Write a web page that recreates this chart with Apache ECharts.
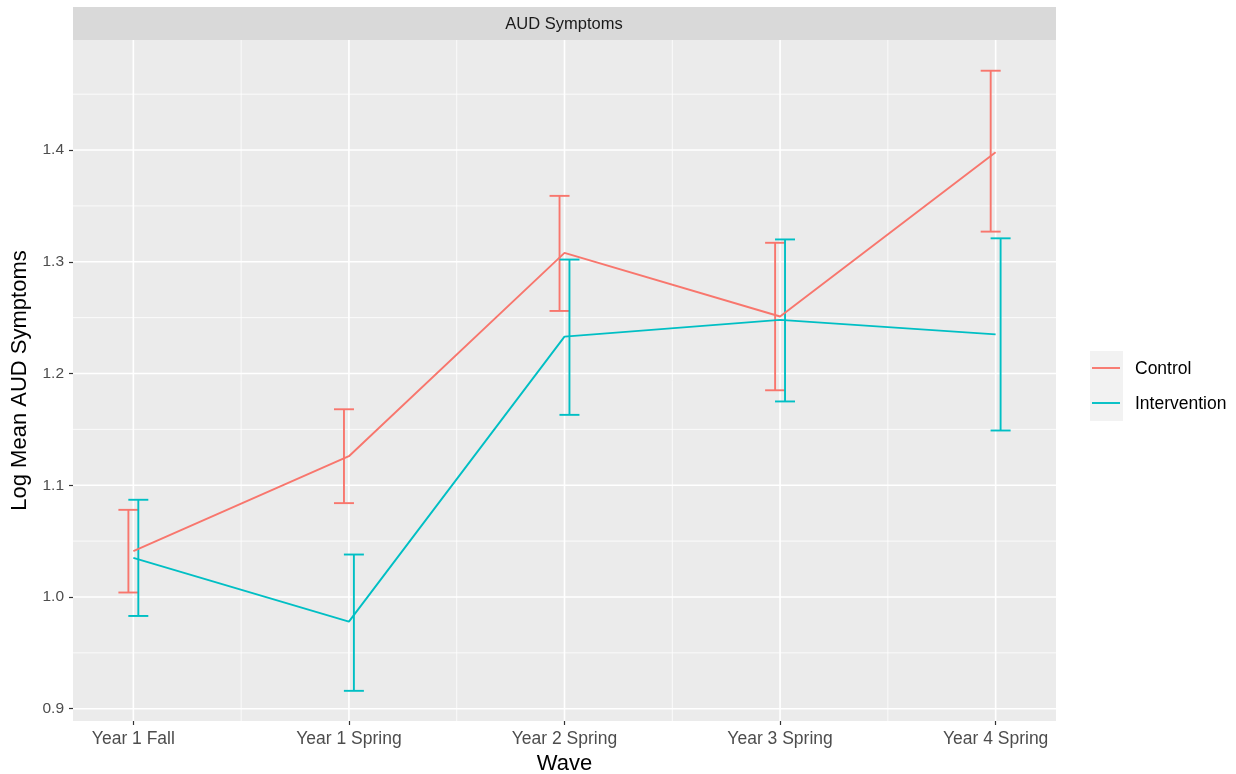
<!DOCTYPE html>
<html>
<head>
<meta charset="utf-8">
<title>AUD Symptoms</title>
<script src="https://cdn.jsdelivr.net/npm/echarts@6/dist/echarts.min.js"></script>
<style>
  html, body { margin: 0; padding: 0; background: #ffffff; }
  #chart { width: 1236px; height: 774px; }
</style>
</head>
<body>
<div id="chart"></div>
<script>
// Waves (x categories)
const waves = ['Year 1 Fall', 'Year 1 Spring', 'Year 2 Spring', 'Year 3 Spring', 'Year 4 Spring'];

// Control group: log mean and interval bounds
const controlMean = [1.041, 1.126, 1.308, 1.251, 1.398];
const controlLow  = [1.004, 1.084, 1.256, 1.185, 1.327];
const controlHigh = [1.078, 1.168, 1.359, 1.317, 1.471];

// Intervention group: log mean and interval bounds
const interventionMean = [1.035, 0.978, 1.233, 1.248, 1.235];
const interventionLow  = [0.983, 0.916, 1.163, 1.175, 1.149];
const interventionHigh = [1.087, 1.038, 1.302, 1.320, 1.321];

// Axis ticks
const yTicks = [0.9, 1.0, 1.1, 1.2, 1.3, 1.4];
const yMinor = [0.95, 1.05, 1.15, 1.25, 1.35, 1.45];
const xTicks = [0, 1, 2, 3, 4];
const xMinor = [0.5, 1.5, 2.5, 3.5];

const groups = ['Control', 'Intervention'];
const colors = ['#F8766D', '#00BFC4'];
const dodge = [-0.023, 0.023];   // horizontal offset of each group's error bars
const capHalf = 10;              // error bar cap half-width, px
const markWidth = 1.9;

const chart = echarts.init(document.getElementById('chart'), null, { renderer: 'canvas' });

// Panel grid lines (major + minor), drawn in data space
const gridDefs = []
  .concat(yTicks.map(v => ({ dir: 'h', v: v, major: true })))
  .concat(yMinor.map(v => ({ dir: 'h', v: v, major: false })))
  .concat(xTicks.map(v => ({ dir: 'v', v: v, major: true })))
  .concat(xMinor.map(v => ({ dir: 'v', v: v, major: false })));

function gridRender(params, api) {
  const d = gridDefs[params.dataIndex];
  const cs = params.coordSys;
  let shape;
  if (d.dir === 'h') {
    const y = api.coord([0, d.v])[1];
    shape = { x1: cs.x, y1: y, x2: cs.x + cs.width, y2: y };
  } else {
    const x = api.coord([d.v, 1])[0];
    shape = { x1: x, y1: cs.y, x2: x, y2: cs.y + cs.height };
  }
  return {
    type: 'line',
    shape: shape,
    style: { stroke: '#ffffff', lineWidth: d.major ? 1.6 : 0.8 }
  };
}

function errorBarSeries(gi, lows, highs) {
  const data = waves.map((w, i) => [i + dodge[gi], lows[i], highs[i]]);
  return {
    type: 'custom',
    name: groups[gi],
    z: 3,
    silent: true,
    data: data,
    encode: { x: 0, y: [1, 2] },
    renderItem: function (params, api) {
      const x = api.value(0);
      const lo = api.coord([x, api.value(1)]);
      const hi = api.coord([x, api.value(2)]);
      const style = { stroke: colors[gi], lineWidth: markWidth, fill: null };
      return {
        type: 'group',
        children: [
          { type: 'line', shape: { x1: lo[0], y1: lo[1], x2: hi[0], y2: hi[1] }, style: style },
          { type: 'line', shape: { x1: lo[0] - capHalf, y1: lo[1], x2: lo[0] + capHalf, y2: lo[1] }, style: style },
          { type: 'line', shape: { x1: hi[0] - capHalf, y1: hi[1], x2: hi[0] + capHalf, y2: hi[1] }, style: style }
        ]
      };
    }
  };
}

function lineSeries(gi, means) {
  return {
    type: 'line',
    name: groups[gi],
    z: 4,
    silent: true,
    symbol: 'none',
    data: means.map((m, i) => [i, m]),
    lineStyle: { color: colors[gi], width: markWidth },
    animation: false
  };
}

const labelFont = 'Liberation Sans, Arial, Helvetica, sans-serif';

const option = {
  animation: false,
  backgroundColor: '#ffffff',
  grid: {
    left: 73, right: 180, top: 40, bottom: 53,
    outerBoundsMode: 'none',
    containLabel: false,
    show: true, backgroundColor: '#ebebeb', borderWidth: 0
  },
  xAxis: {
    type: 'value',
    min: -0.28, max: 4.28,
    name: 'Wave',
    nameLocation: 'middle',
    nameGap: 32,
    nameTextStyle: { fontSize: 22, color: '#000000', fontFamily: labelFont },
    axisLine: { show: false, onZero: false },
    axisTick: { show: true, customValues: xTicks, length: 4, lineStyle: { color: '#333333', width: 1.2 } },
    axisLabel: {
      customValues: xTicks,
      formatter: v => waves[Math.round(v)],
      fontSize: 17.5, color: '#4d4d4d', fontFamily: labelFont, margin: 9
    },
    splitLine: { show: false }
  },
  yAxis: {
    type: 'value',
    min: 0.889, max: 1.4985,
    name: 'Log Mean AUD Symptoms',
    nameLocation: 'middle',
    nameGap: 42,
    nameRotate: 90,
    nameTextStyle: { fontSize: 22, color: '#000000', fontFamily: labelFont },
    axisLine: { show: false, onZero: false },
    axisTick: { show: true, customValues: yTicks, length: 4, lineStyle: { color: '#333333', width: 1.2 } },
    axisLabel: {
      customValues: yTicks,
      formatter: v => v.toFixed(1),
      fontSize: 15.5, color: '#4d4d4d', fontFamily: labelFont, margin: 9
    },
    splitLine: { show: false }
  },
  series: [
    {
      type: 'custom',
      z: 1,
      silent: true,
      data: gridDefs.map(d => [d.dir === 'v' ? d.v : 0, d.dir === 'h' ? d.v : 1]),
      renderItem: gridRender
    },
    lineSeries(0, controlMean),
    lineSeries(1, interventionMean),
    errorBarSeries(0, controlLow, controlHigh),
    errorBarSeries(1, interventionLow, interventionHigh)
  ],
  graphic: [
    // facet strip
    {
      type: 'rect', left: 73, top: 7, z: 10,
      shape: { width: 983, height: 33 },
      style: { fill: '#d9d9d9' }
    },
    {
      type: 'text', x: 564, y: 24, z: 11,
      style: {
        text: 'AUD Symptoms', fill: '#1a1a1a', fontSize: 16.5, fontFamily: labelFont,
        align: 'center', verticalAlign: 'middle'
      }
    },
    // legend
    {
      type: 'rect', left: 1090, top: 351, z: 10,
      shape: { width: 33, height: 70 },
      style: { fill: '#f2f2f2' }
    },
    {
      type: 'line', z: 11,
      shape: { x1: 1092, y1: 368, x2: 1120, y2: 368 },
      style: { stroke: colors[0], lineWidth: markWidth }
    },
    {
      type: 'line', z: 11,
      shape: { x1: 1092, y1: 403, x2: 1120, y2: 403 },
      style: { stroke: colors[1], lineWidth: markWidth }
    },
    {
      type: 'text', x: 1135, y: 369, z: 11,
      style: { text: groups[0], fill: '#000000', fontSize: 17.5, fontFamily: labelFont, verticalAlign: 'middle' }
    },
    {
      type: 'text', x: 1135, y: 404, z: 11,
      style: { text: groups[1], fill: '#000000', fontSize: 17.5, fontFamily: labelFont, verticalAlign: 'middle' }
    }
  ]
};

chart.setOption(option);
</script>
</body>
</html>
